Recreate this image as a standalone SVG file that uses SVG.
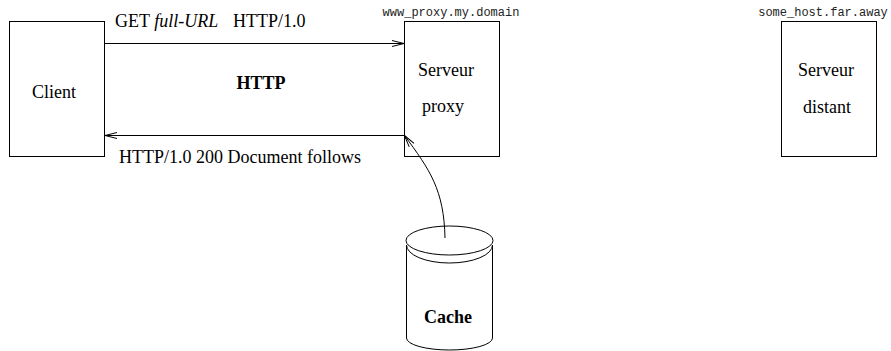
<svg xmlns="http://www.w3.org/2000/svg" width="891" height="351" viewBox="0 0 891 351">
<style>
.box{fill:#fff;stroke:#000;stroke-width:1}
.ln{fill:none;stroke:#000;stroke-width:1}
.t{font-family:"Liberation Serif","Times New Roman",serif;font-size:18px;fill:#000}
.b{font-weight:bold}
.m{font-family:"Liberation Mono","Courier New",monospace;font-size:12px;fill:#222}
</style>
<defs>
<marker id="arr" markerUnits="userSpaceOnUse" markerWidth="14" markerHeight="10" refX="12" refY="3" orient="auto" overflow="visible">
<path d="M0,0 L12,3 L0,6" fill="none" stroke="#000" stroke-width="1"/>
</marker>
</defs>
<g id="client">
<rect class="box" x="9.5" y="21.5" width="95" height="135"/>
<text class="t" x="54" y="98" text-anchor="middle">Client</text>
</g>
<g id="proxy">
<rect class="box" x="404.5" y="21.5" width="95" height="135"/>
<text class="m" x="451" y="16" text-anchor="middle">www_proxy.my.domain</text>
<text class="t" x="446" y="76" text-anchor="middle">Serveur</text>
<text class="t" x="443" y="112" text-anchor="middle">proxy</text>
</g>
<g id="distant">
<rect class="box" x="781.5" y="21.5" width="95" height="135"/>
<text class="m" x="823" y="16" text-anchor="middle">some_host.far.away</text>
<text class="t" x="826" y="76" text-anchor="middle">Serveur</text>
<text class="t" x="827" y="113" text-anchor="middle">distant</text>
</g>
<g id="cache">
<path class="box" d="M406.5,245 V338 A43,12 0 0 0 492.5,338 V245"/>
<path class="ln" d="M406.5,245 A43,18 0 0 0 492.5,245"/>
<ellipse class="box" cx="449.5" cy="240.5" rx="43.5" ry="14.5"/>
<text class="t b" x="448" y="323" text-anchor="middle">Cache</text>
</g>
<g id="connectors">
<line class="ln" x1="104.5" y1="43.5" x2="404" y2="43.5" marker-end="url(#arr)"/>
<line class="ln" x1="404.5" y1="135.5" x2="105" y2="135.5" marker-end="url(#arr)"/>
<path class="ln" d="M445,238 C444,190 430,170 404.5,135.5" marker-end="url(#arr)"/>
</g>
<g id="labels">
<text class="t" x="115" y="27">GET <tspan font-style="italic">full-URL</tspan><tspan x="233">HTTP/1.0</tspan></text>
<text class="t b" x="261" y="89" text-anchor="middle">HTTP</text>
<text class="t" x="119" y="163">HTTP/1.0 200 Document follows</text>
</g>
</svg>
